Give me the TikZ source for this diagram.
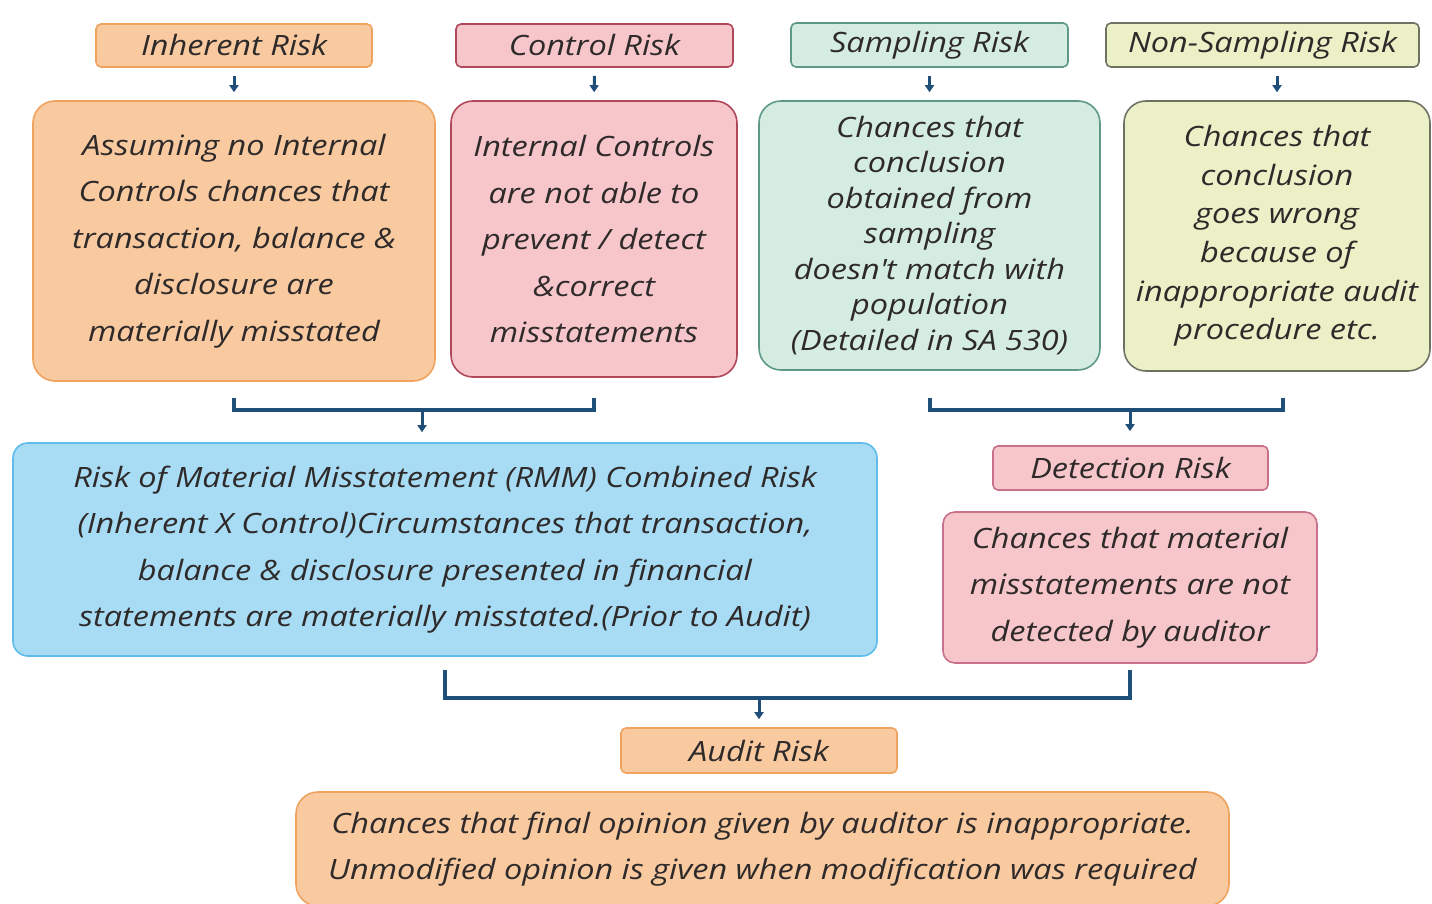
\documentclass[tikz,border=0pt]{standalone}
\usepackage{fontspec}
\setmainfont{Open Sans}[FakeStretch=1.16]
\usetikzlibrary{arrows.meta}

\definecolor{ink}{HTML}{2E2A2A}
\definecolor{navy}{HTML}{1F4E79}
\definecolor{orfill}{HTML}{F9C9A0}
\definecolor{ordraw}{HTML}{EFA35E}
\definecolor{pkfill}{HTML}{F7C6CB}
\definecolor{pkdraw}{HTML}{B0485A}
\definecolor{pkdrawlt}{HTML}{C9708A}
\definecolor{grfill}{HTML}{D5ECE1}
\definecolor{grdraw}{HTML}{5E9888}
\definecolor{ylfill}{HTML}{ECF0C7}
\definecolor{yldraw}{HTML}{6F7263}
\definecolor{blfill}{HTML}{A8DCF5}
\definecolor{bldraw}{HTML}{5FBCEA}

\tikzset{
  tag/.style={draw, rounded corners=5pt, line width=1.6pt, inner sep=0pt,
    text=ink, font=\fontsize{28}{30}\selectfont\itshape},
  card/.style={draw, rounded corners=22pt, line width=1.6pt, inner sep=0pt,
    align=center, text=ink, font=\fontsize{28}{46.5}\selectfont\itshape},
  feed/.style={draw=navy, line width=3pt, -{Triangle[length=7pt,width=9pt]},
    shorten <=8pt, shorten >=8pt},
  brace/.style={draw=navy, line width=4pt},
  drop/.style={draw=navy, line width=3pt, -{Triangle[length=7pt,width=9pt]}},
}

\begin{document}
\begin{tikzpicture}[x=1pt,y=-1pt]
\useasboundingbox (0,0) rectangle (1432,904);
\clip (0,0) rectangle (1432,904);

% top row headings
\node[tag, fill=orfill, draw=ordraw, minimum width=276pt, minimum height=43pt] (irl) at (234,45.5) {Inherent Risk};
\node[tag, fill=pkfill, draw=pkdraw, minimum width=277pt, minimum height=43pt] (crl) at (594.5,45.5) {Control Risk};
\node[tag, fill=grfill, draw=grdraw, minimum width=277pt, minimum height=44pt] (srl) at (929.5,45) {Sampling Risk};
\node[tag, fill=ylfill, draw=yldraw, minimum width=313pt, minimum height=44pt] (nsl) at (1262.5,45) {Non-Sampling Risk};

% top row descriptions
\node[card, fill=orfill, draw=ordraw, minimum width=402pt, minimum height=280pt] (ir) at (234,241)
  {Assuming no Internal\\Controls chances that\\transaction, balance \&\\disclosure are\\materially misstated};
\node[card, fill=pkfill, draw=pkdraw, minimum width=286pt, minimum height=276pt] (cr) at (594,239)
  {Internal Controls\\are not able to\\prevent / detect\\\&correct\\misstatements};
\node[card, fill=grfill, draw=grdraw, minimum width=341pt, minimum height=269pt,
  font=\fontsize{28}{35.5}\selectfont\itshape] (sr) at (929.5,235.5)
  {Chances that\\conclusion\\obtained from\\sampling\\doesn\textquotesingle t match with\\population\\(Detailed in SA 530)};
\node[card, fill=ylfill, draw=yldraw, minimum width=306pt, minimum height=270pt,
  font=\fontsize{28}{38.6}\selectfont\itshape] (ns) at (1277,236)
  {Chances that\\conclusion\\goes wrong\\because of\\inappropriate audit\\procedure etc.};

% heading to description arrows
\draw[feed] (irl.south) -- (ir.north);
\draw[feed] (crl.south) -- (cr.north);
\draw[feed] (srl.south) -- (sr.north);
\draw[feed] (nsl.south -| ns.north) -- (ns.north);

% middle row
\node[card, fill=blfill, draw=bldraw, rounded corners=15pt, minimum width=864pt, minimum height=213pt] (rmm) at (445,549.5)
  {Risk of Material Misstatement (RMM) Combined Risk\\(Inherent X Control)Circumstances that transaction,\\balance \& disclosure presented in financial\\statements are materially misstated.(Prior to Audit)};
\node[tag, fill=pkfill, draw=pkdrawlt, minimum width=275pt, minimum height=44pt] (drl) at (1130.5,468) {Detection Risk};
\node[card, fill=pkfill, draw=pkdrawlt, rounded corners=12pt, minimum width=374pt, minimum height=151pt] (dr) at (1130,587.5)
  {Chances that material\\misstatements are not\\detected by auditor};

% bottom row
\node[tag, fill=orfill, draw=ordraw, minimum width=276pt, minimum height=45pt] (arl) at (759,750.5) {Audit Risk};
\node[card, fill=orfill, draw=ordraw, minimum width=933pt, minimum height=114pt] (ar) at (762.5,849)
  {Chances that final opinion given by auditor is inappropriate.\\Unmodified opinion is given when modification was required};

% joining brackets
\coordinate (j1) at (422,410);
\coordinate (j2) at (1130,410);
\coordinate (j3) at (759,698);
\draw[brace] (ir.south |- 0,398) -- (ir.south |- j1) -- (cr.south |- j1) -- (cr.south |- 0,398);
\draw[drop, shorten >=10pt] (j1) -- (j1 |- rmm.north);
\draw[brace] (sr.south |- 0,398) -- (sr.south |- j2) -- (1283,410) -- (1283,398);
\draw[drop, shorten >=14pt] (j2) -- (j2 |- drl.north);
\draw[brace] (rmm.south |- 0,670) -- (rmm.south |- j3) -- (dr.south |- j3) -- (dr.south |- 0,670);
\draw[drop, shorten >=8pt] (j3) -- (arl.north);
\end{tikzpicture}
\end{document}
